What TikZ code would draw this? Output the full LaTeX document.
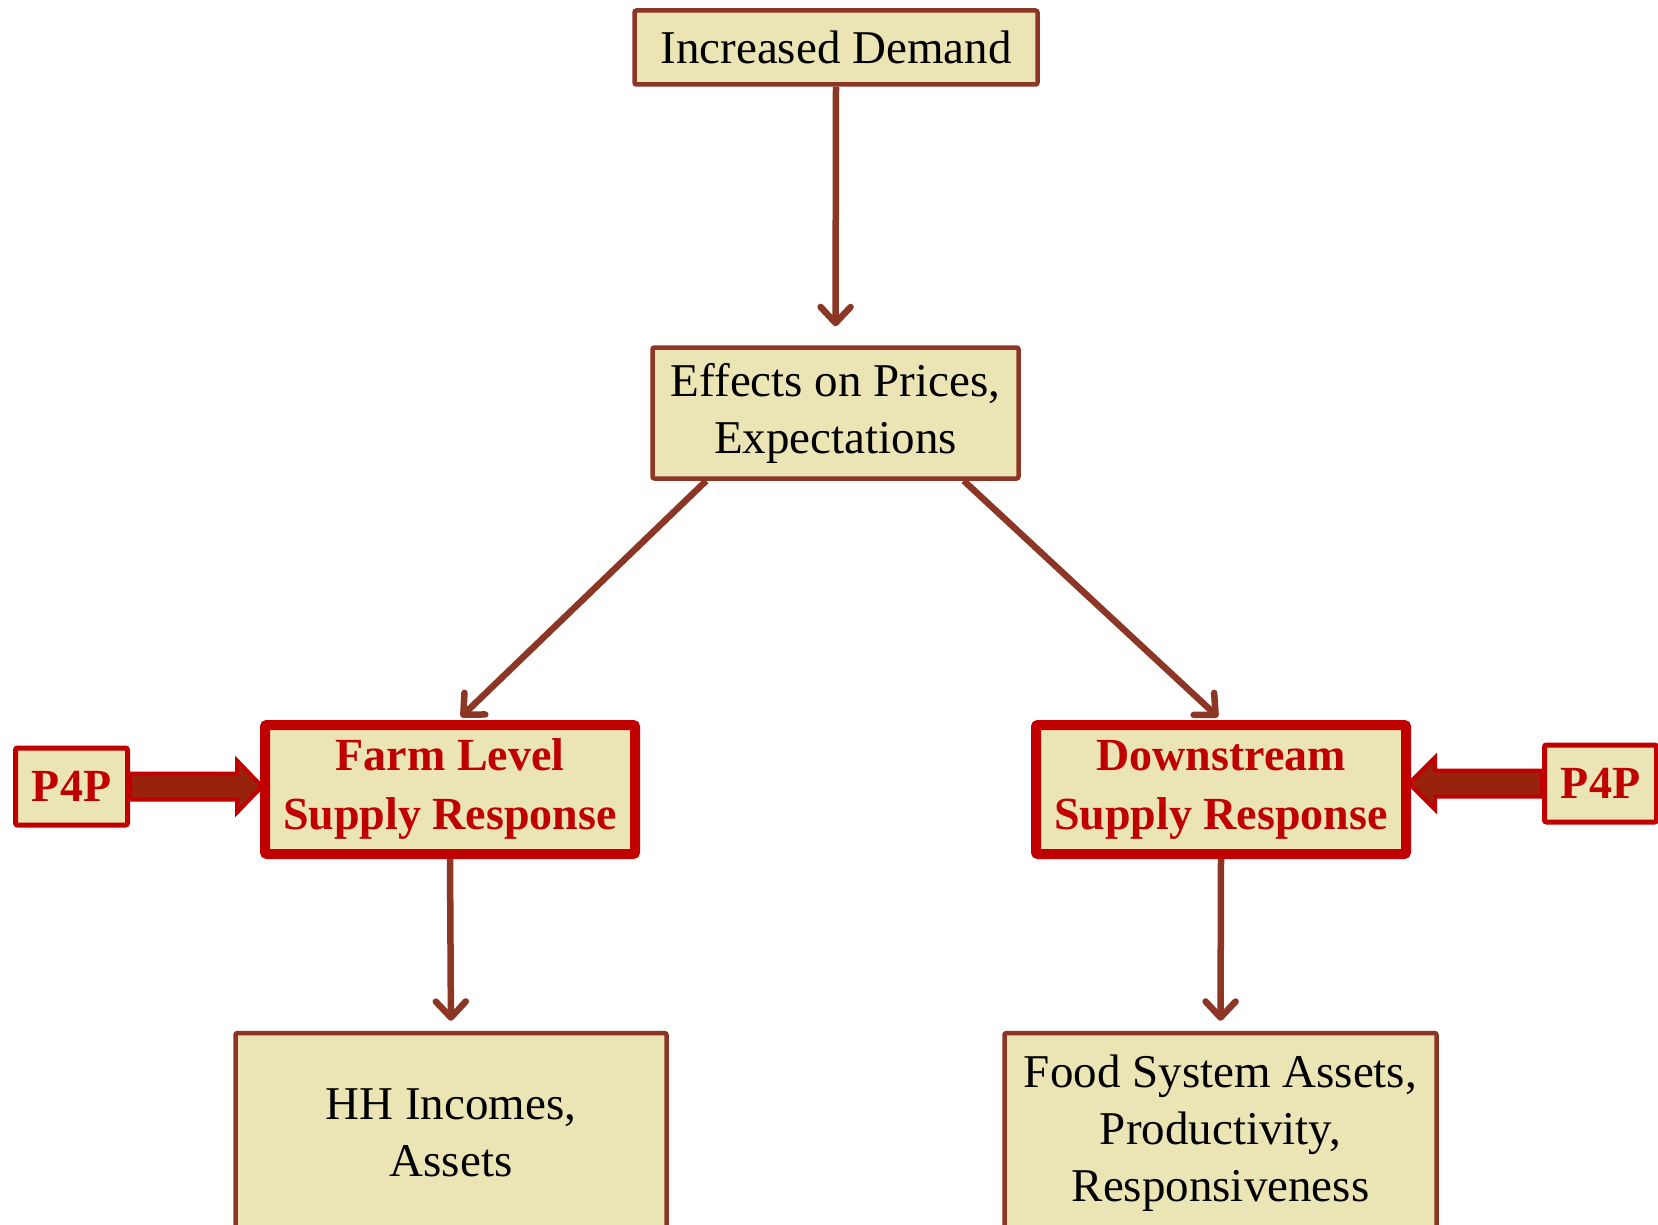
\documentclass[tikz,border=0pt]{standalone}
\usepackage{fontspec}
\setmainfont{Liberation Serif}
\usepackage{tikz}
\definecolor{boxfill}{RGB}{235,228,180}
\definecolor{boxbrown}{RGB}{140,54,38}
\definecolor{p4pred}{RGB}{192,0,0}
\definecolor{p4pdark}{RGB}{153,34,12}
\usetikzlibrary{arrows.meta,positioning,calc}
\pgfdeclareradialshading{vignette}{\pgfpoint{0bp}{0bp}}{color(0bp)=(white); color(57bp)=(white); color(71bp)=(black!10)}

\begin{document}
\begin{tikzpicture}[
    x=1pt, y=-1pt,
    plainbox/.style={rectangle, draw=boxbrown, line width=4.5pt, fill=boxfill, rounded corners=2pt, align=center, font=\fontsize{47}{57}\selectfont},
    supplybox/.style={plainbox, draw=p4pred, line width=10pt, text=p4pred, font=\bfseries\fontsize{46}{59}\selectfont, minimum width=370pt, minimum height=129pt},
    p4pbox/.style={plainbox, draw=p4pred, line width=5pt, text=p4pred, font=\bfseries\fontsize{46}{56}\selectfont, minimum width=112pt, minimum height=77pt},
    link/.style={draw=boxbrown, line width=6.5pt, -{Straight Barb[length=16pt,width=30pt,round]}},
    p4parrow/.style={draw=p4pred, fill=p4pdark, line width=4pt, line join=miter}
]

\useasboundingbox (0,0) rectangle (1658,1225);
\shade[shading=vignette] (0,0) rectangle (1658,1225);

% Demand and prices
\node[plainbox, minimum width=403pt, minimum height=74pt] (demand) at (836,47.5) {Increased Demand};
\node[plainbox, minimum width=366pt, minimum height=131pt] (effects) at (835.5,413) {Effects on Prices,\\Expectations};

% Supply response
\node[supplybox] (farm) at (450,789.5) {Farm Level\\Supply Response};
\node[supplybox] (downstream) at (1221,789.5) {Downstream\\Supply Response};

% P4P
\node[p4pbox, left=130pt of farm, yshift=3pt] (p4pl) {P4P};
\node[p4pbox, right=131pt of downstream, yshift=6pt] (p4pr) {P4P};

% Outcomes
\node[plainbox, minimum width=431pt, minimum height=200pt] (hh) at (451,1133) {HH Incomes,\\Assets};
\node[plainbox, minimum width=432pt, minimum height=200pt] (food) at (1220.5,1133) {Food System Assets,\\Productivity,\\Responsiveness};

% Arrows
\draw[link, shorten >=19pt] (demand.south) -- (effects.north);
\draw[link] ([xshift=56pt]effects.south west) -- ([xshift=11pt,yshift=3pt]farm.north);
\draw[link] ([xshift=-57pt]effects.south east) -- ([xshift=-3pt,yshift=3pt]downstream.north);
\draw[link, shorten >=10pt] (farm.south) -- (hh.north);
\draw[link, shorten >=10pt] (downstream.south) -- (food.north);

% P4P arrows
\draw[p4parrow] let \p1=(p4pl.east), \p2=(farm.west) in
    (\x1,\y1+13pt) -- (\x2-23pt,\y1+13pt) -- (\x2-23pt,\y1+26pt) -- (\x2+2pt,\y1)
    -- (\x2-23pt,\y1-26pt) -- (\x2-23pt,\y1-13pt) -- (\x1,\y1-13pt) -- cycle;
\draw[p4parrow] let \p1=(p4pr.west), \p2=(downstream.east) in
    (\x1,\y1+13pt) -- (\x2+24pt,\y1+13pt) -- (\x2+24pt,\y1+26pt) -- (\x2-2pt,\y1)
    -- (\x2+24pt,\y1-26pt) -- (\x2+24pt,\y1-13pt) -- (\x1,\y1-13pt) -- cycle;

\end{tikzpicture}
\end{document}
